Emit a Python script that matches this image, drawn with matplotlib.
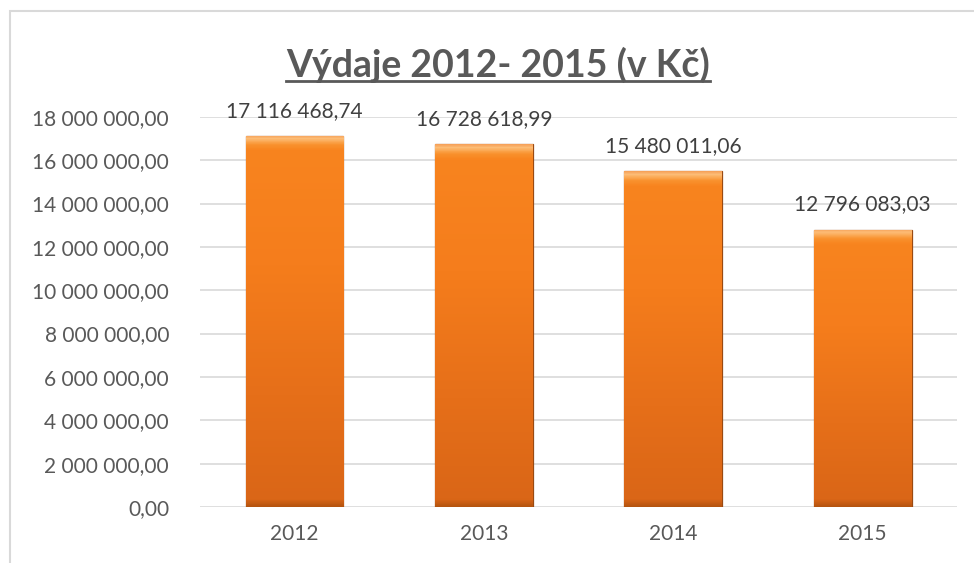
import numpy as np
import matplotlib.pyplot as plt
from matplotlib.colors import LinearSegmentedColormap
from matplotlib.lines import Line2D
from matplotlib.patches import Rectangle

years = ["2012", "2013", "2014", "2015"]
expenses = [17116468.74, 16728618.99, 15480011.06, 12796083.03]
y_ticks = [0, 2e6, 4e6, 6e6, 8e6, 10e6, 12e6, 14e6, 16e6, 18e6]


def cz_format(v):
    s = f"{v:,.2f}"
    return s.replace(",", " ").replace(".", ",")


plt.rcParams["font.family"] = ["Lato", "DejaVu Sans"]

fig = plt.figure(figsize=(9.74, 5.63), dpi=100)
ax = fig.add_axes([0.205, 0.0995, 0.778, 0.693])

# chart border (top + left only visible)
fig.add_artist(Rectangle((10 / 974, -0.05), 1.0, (563 - 11) / 563 + 0.05,
                         transform=fig.transFigure, fill=False,
                         edgecolor="#D9D9D9", linewidth=1.5))

x = np.arange(len(years))
bars = ax.bar(x, expenses, width=0.515, color="#F7811E",
              edgecolor="#9A4A12", linewidth=0.9, zorder=2)

ax.set_xlim(-0.5, len(years) - 0.5)
ax.set_ylim(0, 18e6)
axis_px = 390.0
for bar in bars:
    bx, bw, bh = bar.get_x(), bar.get_width(), bar.get_height()
    bar_px = bh / 18e6 * axis_px
    f = 9.0 / bar_px  # bevel size as fraction of bar height
    cmap = LinearSegmentedColormap.from_list("orange", [
        (0.0, "#F6A25A"), (f * 0.3, "#FDBE78"), (f, "#F9922E"),
        (f * 1.6, "#F8841F"), (0.35, "#F57D1C"), (0.7, "#E66F19"),
        (1 - f * 0.8, "#DA6617"), (1.0, "#B5540F")])
    grad = np.linspace(0, 1, 512).reshape(-1, 1)
    im = ax.imshow(grad, extent=[bx, bx + bw, 0, bh], aspect="auto",
                   cmap=cmap, zorder=2.5, origin="upper")
    im.set_clip_path(bar)
    ax.text(bx + bw / 2, bh + 700000, cz_format(bh), ha="center", va="bottom",
            fontsize=15, color="#404040")

ax.set_yticks(y_ticks)
ax.set_yticklabels([cz_format(v) for v in y_ticks])
ax.set_xticks(x)
ax.set_xticklabels(years)
ax.tick_params(axis="both", length=0, labelsize=15, labelcolor="#595959")
ax.tick_params(axis="y", pad=22)
ax.tick_params(axis="x", pad=12)
ax.grid(axis="y", color="#D9D9D9", linewidth=1.2, zorder=0)
ax.set_axisbelow(True)
for s in ax.spines.values():
    s.set_visible(False)

t = fig.text(0.511, 0.885, "Výdaje 2012- 2015 (v Kč)", ha="center", va="center",
             fontsize=27, fontweight="bold", color="#595959")
fig.canvas.draw()
bb = t.get_window_extent()
inv = fig.transFigure.inverted()
(x0, y0), (x1, y1) = inv.transform([[bb.x0, bb.y0], [bb.x1, bb.y1]])
fig.add_artist(Line2D([x0, x1], [y0 + 0.003, y0 + 0.003], transform=fig.transFigure,
                      color="#595959", linewidth=2))

fig.savefig("out.png", dpi=100)
